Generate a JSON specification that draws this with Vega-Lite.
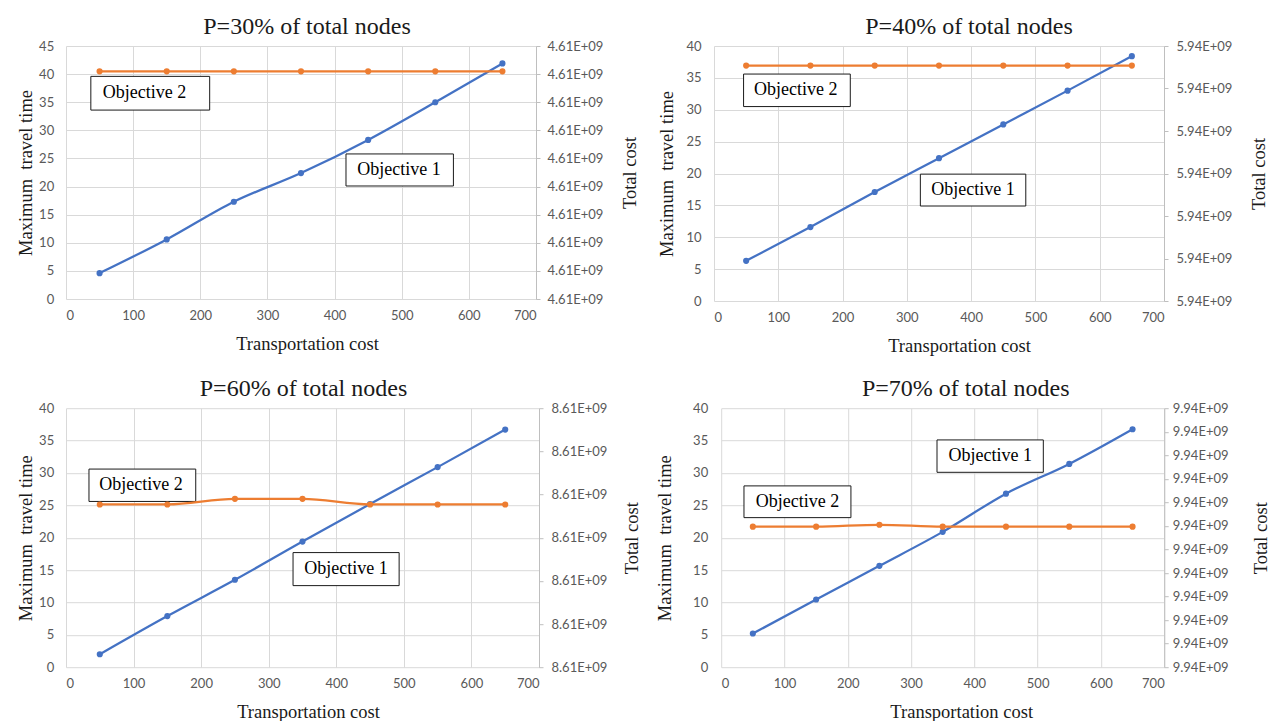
{
  "$schema": "https://vega.github.io/schema/vega-lite/v6.json",
  "background": "white",
  "padding": {"left": 16, "top": 15, "right": 0, "bottom": 0},
  "datasets": {
    "series": [
      {"panel": "P30", "tc": 50, "time": 4.6, "cost": 4610000810},
      {"panel": "P30", "tc": 150, "time": 10.6, "cost": 4610000810},
      {"panel": "P30", "tc": 250, "time": 17.3, "cost": 4610000810},
      {"panel": "P30", "tc": 350, "time": 22.4, "cost": 4610000810},
      {"panel": "P30", "tc": 450, "time": 28.3, "cost": 4610000810},
      {"panel": "P30", "tc": 550, "time": 35.0, "cost": 4610000810},
      {"panel": "P30", "tc": 650, "time": 41.9, "cost": 4610000810},
      {"panel": "P40", "tc": 50, "time": 6.3, "cost": 5940000554},
      {"panel": "P40", "tc": 150, "time": 11.6, "cost": 5940000554},
      {"panel": "P40", "tc": 250, "time": 17.1, "cost": 5940000554},
      {"panel": "P40", "tc": 350, "time": 22.4, "cost": 5940000554},
      {"panel": "P40", "tc": 450, "time": 27.7, "cost": 5940000554},
      {"panel": "P40", "tc": 550, "time": 33.0, "cost": 5940000554},
      {"panel": "P40", "tc": 650, "time": 38.4, "cost": 5940000554},
      {"panel": "P60", "tc": 50, "time": 2.0, "cost": 8610000377},
      {"panel": "P60", "tc": 150, "time": 7.9, "cost": 8610000377},
      {"panel": "P60", "tc": 250, "time": 13.5, "cost": 8610000390},
      {"panel": "P60", "tc": 350, "time": 19.4, "cost": 8610000390},
      {"panel": "P60", "tc": 450, "time": 25.2, "cost": 8610000377},
      {"panel": "P60", "tc": 550, "time": 30.9, "cost": 8610000377},
      {"panel": "P60", "tc": 650, "time": 36.7, "cost": 8610000377},
      {"panel": "P70", "tc": 50, "time": 5.2, "cost": 9940000597},
      {"panel": "P70", "tc": 150, "time": 10.45, "cost": 9940000597},
      {"panel": "P70", "tc": 250, "time": 15.65, "cost": 9940000605},
      {"panel": "P70", "tc": 350, "time": 20.9, "cost": 9940000597},
      {"panel": "P70", "tc": 450, "time": 26.8, "cost": 9940000597},
      {"panel": "P70", "tc": 550, "time": 31.4, "cost": 9940000597},
      {"panel": "P70", "tc": 650, "time": 36.75, "cost": 9940000597}
    ],
    "notes": [
      {"panel": "P30", "label": "Objective 2", "x1": 37, "x2": 214, "y1": 33.6, "y2": 39.6, "xc": 117, "yc": 36.6},
      {"panel": "P30", "label": "Objective 1", "x1": 417, "x2": 577, "y1": 20.1, "y2": 25.8, "xc": 496, "yc": 22.95},
      {"panel": "P40", "label": "Objective 2", "x1": 46, "x2": 212, "y1": 30.5, "y2": 35.6, "xc": 127, "yc": 33.05},
      {"panel": "P40", "label": "Objective 1", "x1": 321, "x2": 485, "y1": 14.9, "y2": 19.9, "xc": 403, "yc": 17.4},
      {"panel": "P60", "label": "Objective 2", "x1": 34, "x2": 192, "y1": 25.6, "y2": 30.6, "xc": 111, "yc": 28.1},
      {"panel": "P60", "label": "Objective 1", "x1": 336, "x2": 493, "y1": 12.6, "y2": 17.7, "xc": 414.5, "yc": 15.15},
      {"panel": "P70", "label": "Objective 2", "x1": 36, "x2": 205, "y1": 23.1, "y2": 28.0, "xc": 120.5, "yc": 25.55},
      {"panel": "P70", "label": "Objective 1", "x1": 341, "x2": 509, "y1": 30.1, "y2": 35.1, "xc": 425, "yc": 32.6}
    ]
  },
  "vconcat": [
    {
      "hconcat": [
        {
          "title": {"text": "P=30% of total nodes", "dx": 6},
          "width": 470, "height": 253,
          "layer": [
            {
              "layer": [
                {
                  "data": {"name": "series"},
                  "transform": [{"filter": "datum.panel === 'P30'"}],
                  "mark": {"type": "line", "color": "#4472C4", "strokeWidth": 2.25, "interpolate": "monotone", "point": {"filled": true, "size": 38, "color": "#4472C4"}},
                  "encoding": {
                    "x": {"field": "tc", "type": "quantitative", "scale": {"domain": [0, 700], "nice": false}, "axis": {"title": "Transportation cost", "tickCount": 7, "titleX": 241}},
                    "y": {"field": "time", "type": "quantitative", "scale": {"domain": [0, 45], "nice": false}, "axis": {"title": "Maximum\u00a0 travel time", "tickCount": 9, "labelPadding": 12.3, "titlePadding": 3}}
                  }
                },
                {
                  "data": {"name": "notes"},
                  "transform": [{"filter": "datum.panel === 'P30'"}],
                  "mark": {"type": "rect", "fill": "white", "stroke": "#1a1a1a", "strokeWidth": 1},
                  "encoding": {
                    "x": {"field": "x1", "type": "quantitative"}, "x2": {"field": "x2"},
                    "y": {"field": "y1", "type": "quantitative"}, "y2": {"field": "y2"}
                  }
                },
                {
                  "data": {"name": "notes"},
                  "transform": [{"filter": "datum.panel === 'P30'"}],
                  "mark": {"type": "text", "font": "Liberation Serif", "fontSize": 18, "color": "#000"},
                  "encoding": {
                    "x": {"field": "xc", "type": "quantitative"},
                    "y": {"field": "yc", "type": "quantitative"},
                    "text": {"field": "label"}
                  }
                }
              ]
            },
            {
              "data": {"name": "series"},
              "transform": [{"filter": "datum.panel === 'P30'"}],
              "mark": {"type": "line", "color": "#ED7D31", "strokeWidth": 2.25, "interpolate": "monotone", "point": {"filled": true, "size": 38, "color": "#ED7D31"}},
              "encoding": {
                "x": {"field": "tc", "type": "quantitative"},
                "y": {"field": "cost", "type": "quantitative", "scale": {"domain": [4610000000, 4610000900], "nice": false, "zero": false}, "axis": {"orient": "right", "title": "Total cost", "tickCount": 9, "grid": false, "ticks": true, "tickSize": 4, "tickColor": "#bfbfbf", "domain": true, "domainColor": "#bfbfbf", "labelPadding": 7, "titleAngle": -90, "titleBaseline": "top", "titlePadding": 18, "labelExpr": "format(datum.value / 1e9, '.2f') + 'E+09'"}}
              }
            }
          ],
          "resolve": {"scale": {"y": "independent"}}
        },
        {
          "title": {"text": "P=40% of total nodes", "dx": 30},
          "width": 450, "height": 255,
          "layer": [
            {
              "layer": [
                {
                  "data": {"name": "series"},
                  "transform": [{"filter": "datum.panel === 'P40'"}],
                  "mark": {"type": "line", "color": "#4472C4", "strokeWidth": 2.25, "interpolate": "monotone", "point": {"filled": true, "size": 38, "color": "#4472C4"}},
                  "encoding": {
                    "x": {"field": "tc", "type": "quantitative", "scale": {"domain": [0, 700], "nice": false}, "axis": {"title": "Transportation cost", "tickCount": 7, "titleX": 245}},
                    "y": {"field": "time", "type": "quantitative", "scale": {"domain": [0, 40], "nice": false}, "axis": {"title": "Maximum\u00a0 travel time", "tickCount": 8, "labelPadding": 13, "titlePadding": 9.5}}
                  }
                },
                {
                  "data": {"name": "notes"},
                  "transform": [{"filter": "datum.panel === 'P40'"}],
                  "mark": {"type": "rect", "fill": "white", "stroke": "#1a1a1a", "strokeWidth": 1},
                  "encoding": {
                    "x": {"field": "x1", "type": "quantitative"}, "x2": {"field": "x2"},
                    "y": {"field": "y1", "type": "quantitative"}, "y2": {"field": "y2"}
                  }
                },
                {
                  "data": {"name": "notes"},
                  "transform": [{"filter": "datum.panel === 'P40'"}],
                  "mark": {"type": "text", "font": "Liberation Serif", "fontSize": 18, "color": "#000"},
                  "encoding": {
                    "x": {"field": "xc", "type": "quantitative"},
                    "y": {"field": "yc", "type": "quantitative"},
                    "text": {"field": "label"}
                  }
                }
              ]
            },
            {
              "data": {"name": "series"},
              "transform": [{"filter": "datum.panel === 'P40'"}],
              "mark": {"type": "line", "color": "#ED7D31", "strokeWidth": 2.25, "interpolate": "monotone", "point": {"filled": true, "size": 38, "color": "#ED7D31"}},
              "encoding": {
                "x": {"field": "tc", "type": "quantitative"},
                "y": {"field": "cost", "type": "quantitative", "scale": {"domain": [5940000000, 5940000600], "nice": false, "zero": false}, "axis": {"orient": "right", "title": "Total cost", "tickCount": 6, "grid": false, "ticks": true, "tickSize": 4, "tickColor": "#bfbfbf", "domain": true, "domainColor": "#bfbfbf", "labelPadding": 8, "titleAngle": -90, "titleBaseline": "top", "titlePadding": 17.5, "labelExpr": "format(datum.value / 1e9, '.2f') + 'E+09'"}}
              }
            }
          ],
          "resolve": {"scale": {"y": "independent"}}
        }
      ],
      "spacing": 17
    },
    {
      "hconcat": [
        {
          "title": {"text": "P=60% of total nodes", "dx": 1},
          "width": 473, "height": 259,
          "layer": [
            {
              "layer": [
                {
                  "data": {"name": "series"},
                  "transform": [{"filter": "datum.panel === 'P60'"}],
                  "mark": {"type": "line", "color": "#4472C4", "strokeWidth": 2.25, "interpolate": "monotone", "point": {"filled": true, "size": 38, "color": "#4472C4"}},
                  "encoding": {
                    "x": {"field": "tc", "type": "quantitative", "scale": {"domain": [0, 700], "nice": false}, "axis": {"title": "Transportation cost", "tickCount": 7, "titleX": 242}},
                    "y": {"field": "time", "type": "quantitative", "scale": {"domain": [0, 40], "nice": false}, "axis": {"title": "Maximum\u00a0 travel time", "tickCount": 8, "labelPadding": 12.3, "titlePadding": 3}}
                  }
                },
                {
                  "data": {"name": "notes"},
                  "transform": [{"filter": "datum.panel === 'P60'"}],
                  "mark": {"type": "rect", "fill": "white", "stroke": "#1a1a1a", "strokeWidth": 1},
                  "encoding": {
                    "x": {"field": "x1", "type": "quantitative"}, "x2": {"field": "x2"},
                    "y": {"field": "y1", "type": "quantitative"}, "y2": {"field": "y2"}
                  }
                },
                {
                  "data": {"name": "notes"},
                  "transform": [{"filter": "datum.panel === 'P60'"}],
                  "mark": {"type": "text", "font": "Liberation Serif", "fontSize": 18, "color": "#000"},
                  "encoding": {
                    "x": {"field": "xc", "type": "quantitative"},
                    "y": {"field": "yc", "type": "quantitative"},
                    "text": {"field": "label"}
                  }
                }
              ]
            },
            {
              "data": {"name": "series"},
              "transform": [{"filter": "datum.panel === 'P60'"}],
              "mark": {"type": "line", "color": "#ED7D31", "strokeWidth": 2.25, "interpolate": "monotone", "point": {"filled": true, "size": 38, "color": "#ED7D31"}},
              "encoding": {
                "x": {"field": "tc", "type": "quantitative"},
                "y": {"field": "cost", "type": "quantitative", "scale": {"domain": [8610000000, 8610000600], "nice": false, "zero": false}, "axis": {"orient": "right", "title": "Total cost", "tickCount": 6, "grid": false, "ticks": true, "tickSize": 4, "tickColor": "#bfbfbf", "domain": true, "domainColor": "#bfbfbf", "labelPadding": 8, "titleAngle": -90, "titleBaseline": "top", "titlePadding": 15.5, "labelExpr": "format(datum.value / 1e9, '.2f') + 'E+09'"}}
              }
            }
          ],
          "resolve": {"scale": {"y": "independent"}}
        },
        {
          "title": {"text": "P=70% of total nodes", "dx": 23},
          "width": 443, "height": 259,
          "layer": [
            {
              "layer": [
                {
                  "data": {"name": "series"},
                  "transform": [{"filter": "datum.panel === 'P70'"}],
                  "mark": {"type": "line", "color": "#4472C4", "strokeWidth": 2.25, "interpolate": "monotone", "point": {"filled": true, "size": 38, "color": "#4472C4"}},
                  "encoding": {
                    "x": {"field": "tc", "type": "quantitative", "scale": {"domain": [0, 700], "nice": false}, "axis": {"title": "Transportation cost", "tickCount": 7, "titleX": 240}},
                    "y": {"field": "time", "type": "quantitative", "scale": {"domain": [0, 40], "nice": false}, "axis": {"title": "Maximum\u00a0 travel time", "tickCount": 8, "labelPadding": 13.5, "titlePadding": 17.9}}
                  }
                },
                {
                  "data": {"name": "notes"},
                  "transform": [{"filter": "datum.panel === 'P70'"}],
                  "mark": {"type": "rect", "fill": "white", "stroke": "#1a1a1a", "strokeWidth": 1},
                  "encoding": {
                    "x": {"field": "x1", "type": "quantitative"}, "x2": {"field": "x2"},
                    "y": {"field": "y1", "type": "quantitative"}, "y2": {"field": "y2"}
                  }
                },
                {
                  "data": {"name": "notes"},
                  "transform": [{"filter": "datum.panel === 'P70'"}],
                  "mark": {"type": "text", "font": "Liberation Serif", "fontSize": 18, "color": "#000"},
                  "encoding": {
                    "x": {"field": "xc", "type": "quantitative"},
                    "y": {"field": "yc", "type": "quantitative"},
                    "text": {"field": "label"}
                  }
                }
              ]
            },
            {
              "data": {"name": "series"},
              "transform": [{"filter": "datum.panel === 'P70'"}],
              "mark": {"type": "line", "color": "#ED7D31", "strokeWidth": 2.25, "interpolate": "monotone", "point": {"filled": true, "size": 38, "color": "#ED7D31"}},
              "encoding": {
                "x": {"field": "tc", "type": "quantitative"},
                "y": {"field": "cost", "type": "quantitative", "scale": {"domain": [9940000000, 9940001100], "nice": false, "zero": false}, "axis": {"orient": "right", "title": "Total cost", "tickCount": 11, "grid": false, "ticks": true, "tickSize": 4, "tickColor": "#bfbfbf", "domain": true, "domainColor": "#bfbfbf", "labelPadding": 4, "titleAngle": -90, "titleBaseline": "top", "titlePadding": 23.5, "labelExpr": "format(datum.value / 1e9, '.2f') + 'E+09'"}}
              }
            }
          ],
          "resolve": {"scale": {"y": "independent"}}
        }
      ],
      "spacing": 14.2
    }
  ],
  "spacing": 22.2,
  "config": {
    "font": "Liberation Serif",
    "view": {"stroke": null},
    "title": {"font": "Liberation Serif", "fontSize": 24, "fontWeight": "normal", "color": "#1a1a1a", "frame": "group", "anchor": "middle", "baseline": "alphabetic", "offset": 1},
    "axis": {
      "labelFont": "Lato", "labelFontSize": 13, "labelColor": "#595959",
      "titleFont": "Liberation Serif", "titleFontSize": 18.5, "titleFontWeight": "normal", "titleColor": "#1a1a1a",
      "gridColor": "#d9d9d9", "gridWidth": 1, "domain": false, "ticks": false, "labelPadding": 10, "titlePadding": 12
    }
  }
}
